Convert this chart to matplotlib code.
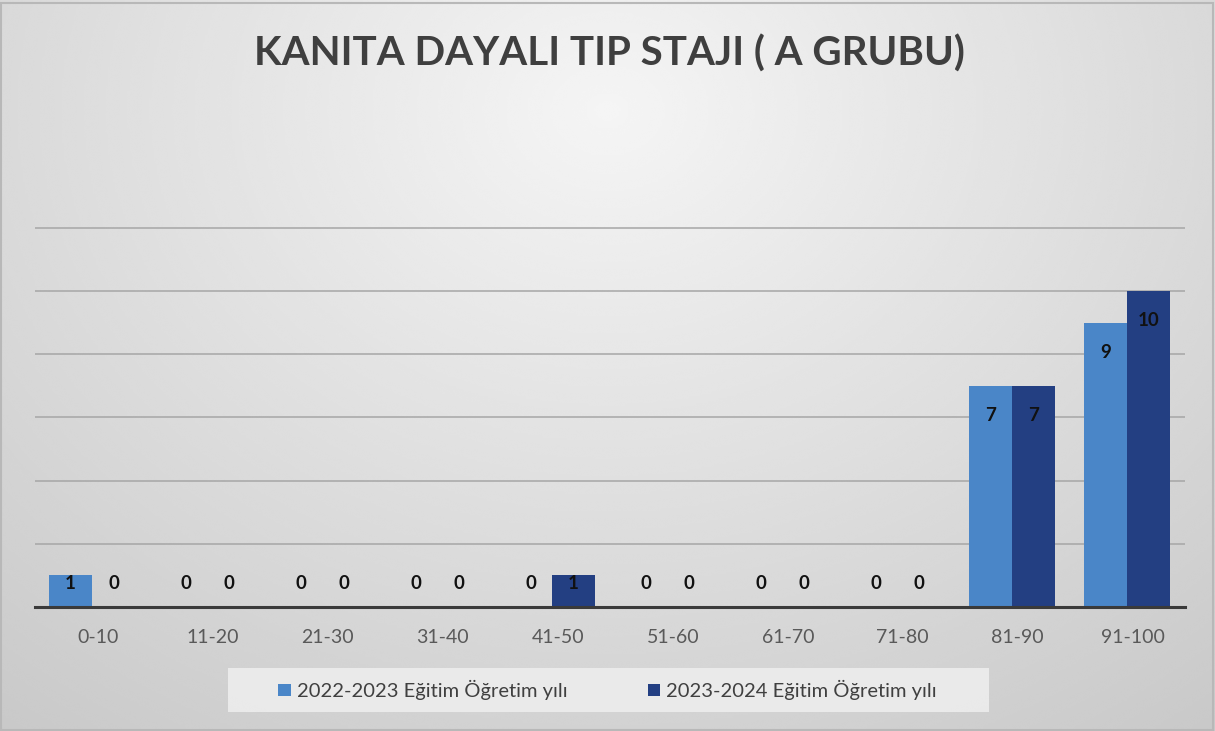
import numpy as np
import matplotlib
matplotlib.use("Agg")
import matplotlib.pyplot as plt
from matplotlib.patches import Rectangle

categories = ["0-10", "11-20", "21-30", "31-40", "41-50",
              "51-60", "61-70", "71-80", "81-90", "91-100"]
year_2022 = [1, 0, 0, 0, 0, 0, 0, 0, 7, 9]
year_2023 = [0, 0, 0, 0, 1, 0, 0, 0, 7, 10]
series_names = ["2022-2023 Eğitim Öğretim yılı", "2023-2024 Eğitim Öğretim yılı"]
title = "KANITA DAYALI TIP STAJI ( A GRUBU)"

light_blue = "#4a86c8"
dark_blue = "#233f82"

plt.rcParams["font.family"] = ["Lato", "DejaVu Sans"]

fig = plt.figure(figsize=(12.15, 7.31), dpi=100)

# soft grey radial backdrop, brighter near the top middle
bg = fig.add_axes([0, 0, 1, 1], zorder=-10)
yy, xx = np.mgrid[0:1:300j, 0:1:500j]
r = np.sqrt(((xx - 0.5) / 0.75) ** 2 + ((yy - 0.15) / 1.0) ** 2)
shade = 0.96 - 0.16 * np.clip(r, 0, 1.2)
bg.imshow(shade, cmap="gray", vmin=0, vmax=1, aspect="auto",
          extent=[0, 1, 1, 0], interpolation="bicubic")
bg.add_patch(Rectangle((0.001, 0.002), 0.997, 0.994, fill=False,
                       edgecolor="#b8b8b8", lw=1.5, transform=bg.transAxes))
# light panel behind the legend (axes coords, origin bottom-left)
bg.add_patch(Rectangle((0.188, 0.026), 0.626, 0.06, facecolor="#ededed",
                       edgecolor="none", alpha=0.9, transform=bg.transAxes))
bg.set_xlim(0, 1)
bg.set_ylim(1, 0)
bg.axis("off")

ax = fig.add_axes([0.0284, 0.1696, 0.9465, 0.605])
ax.patch.set_alpha(0)

x = np.arange(len(categories))
w = 0.375
bars1 = ax.bar(x - w / 2, year_2022, w, color=light_blue, zorder=3)
bars2 = ax.bar(x + w / 2, year_2023, w, color=dark_blue, zorder=3)

for xs, vals in ((x - w / 2, year_2022), (x + w / 2, year_2023)):
    for xi, v in zip(xs, vals):
        ax.text(xi, max(v - 0.93, 0.73), str(v), ha="center", va="center",
                fontsize=13.5, fontweight="bold", color="#111111", zorder=4)

ax.set_xlim(-0.5, len(categories) - 0.5)
ax.set_ylim(0, 14)
ax.set_yticks([2, 4, 6, 8, 10, 12])
ax.yaxis.grid(True, color="#a6a6a6", lw=1.1, zorder=0)
ax.tick_params(axis="y", left=False, labelleft=False)
ax.set_xticks(x + 0.05)
ax.set_xticklabels(categories, fontsize=14, color="#595959")
ax.tick_params(axis="x", length=0, pad=16)
for s in ("top", "right", "left"):
    ax.spines[s].set_visible(False)
ax.spines["bottom"].set_color("#3a3a3a")
ax.spines["bottom"].set_linewidth(2.2)
ax.spines["bottom"].set_zorder(5)

fig.text(0.502, 0.927, title, ha="center", va="center", fontsize=29,
         fontweight="bold", color="#3f3f3f")

leg = fig.legend([bars1, bars2], series_names, loc="center",
                 bbox_to_anchor=(0.5, 0.056), ncol=2, frameon=False,
                 fontsize=14.5, handlelength=0.6, handleheight=0.6,
                 handletextpad=0.3, columnspacing=4.0, borderaxespad=0)
for t in leg.get_texts():
    t.set_color("#404040")

fig.savefig("out.png", dpi=100)
